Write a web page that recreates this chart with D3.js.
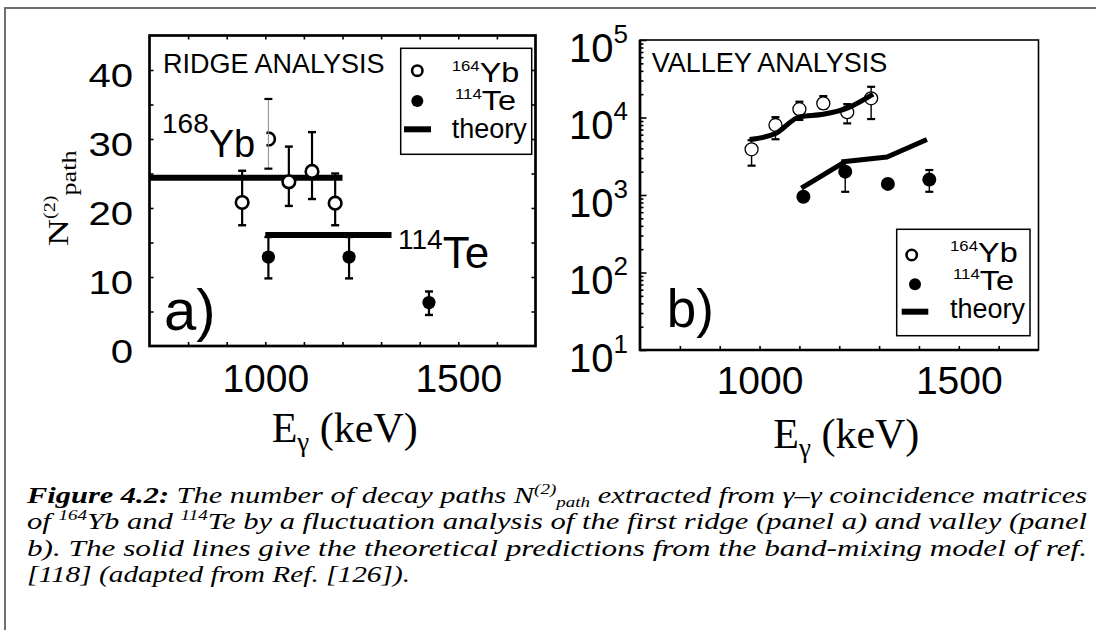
<!DOCTYPE html>
<html>
<head>
<meta charset="utf-8">
<script src="https://cdn.jsdelivr.net/npm/d3@7"></script>
<style>
  body { margin: 0; background: #fff; }
  svg { display: block; }
  text { white-space: pre; }
</style>
</head>
<body>
<svg id="fig" width="1096" height="630"></svg>
<script>
// ---------- data ----------
// Panel a: first-ridge fluctuation analysis, N(2)path vs E_gamma (keV)
const ridgeYbE  = [940, 1061, 1121, 1181];
const ridgeYbN  = [20.8, 23.8, 25.3, 20.7];
const ridgeYbLo = [17.5, 20.3, 21.3, 17.5];
const ridgeYbHi = [25.4, 28.9, 31.0, 25.0];

const ridgeTeE  = [1008, 1217, 1424];
const ridgeTeN  = [12.9, 12.9, 6.3];
const ridgeTeLo = [9.8, 9.8, 4.5];
const ridgeTeHi = [15.8, 15.8, 7.9];

const ridge168E  = [1008];
const ridge168N  = [30.0];
const ridge168Lo = [25.7];
const ridge168Hi = [35.8];

const ridgeTheoryYbE = [700, 1200];
const ridgeTheoryYbN = [24.4, 24.4];
const ridgeTheoryTeE = [1000, 1327];
const ridgeTheoryTeN = [16.1, 16.1];

// Panel b: valley analysis (log scale)
const valleyYbE  = [980, 1040, 1100, 1160, 1220, 1280];
const valleyYbN  = [3890, 8000, 12800, 15200, 11700, 17700];
const valleyYbLo = [2390, 5240, 9300, 13000, 8400, 9550];
const valleyYbHi = [5100, 10100, 16000, 18900, 14900, 24900];

const valleyTeE  = [1110, 1215, 1322, 1426];
const valleyTeN  = [950, 2000, 1390, 1580];
const valleyTeLo = [null, 1100, null, 1100];
const valleyTeHi = [null, 2800, null, 2100];

const valleyTheoryYbE = [975, 1040, 1100, 1160, 1220, 1285];
const valleyTheoryYbN = [5200, 6200, 10200, 11000, 13200, 20000];
const valleyTheoryTeE = [1105, 1215, 1320, 1420];
const valleyTheoryTeN = [1230, 2700, 3100, 5200];

// axes
const energyTicks  = [800, 900, 1000, 1100, 1200, 1300, 1400, 1500, 1600];
const energyLabels = [1000, 1500];
const ridgeTicks   = [5, 10, 15, 20, 25, 30, 35, 40];
const ridgeLabels  = [0, 10, 20, 30, 40];
const valleyMajor  = [10, 100, 1000, 10000, 100000];
const valleyMinor  = [20,30,40,50,60,70,80,90, 200,300,400,500,600,700,800,900,
                      2000,3000,4000,5000,6000,7000,8000,9000,
                      20000,30000,40000,50000,60000,70000,80000,90000];

const SANS  = "'Liberation Sans', Arial, Helvetica, sans-serif";
const SERIF = "'Liberation Serif', 'Times New Roman', Times, serif";

const zip = (e, n, lo, hi) => e.map((v, i) => ({ e: v, n: n[i], lo: lo ? lo[i] : null, hi: hi ? hi[i] : null }));

const svg = d3.select("#fig");

// outer figure frame
svg.append("rect")
  .attr("x", 5).attr("y", 8).attr("width", 1200).attr("height", 800)
  .attr("fill", "none").attr("stroke", "#707070").attr("stroke-width", 2);

// ---------- helpers ----------
function plainAxis(g) { g.select(".domain").remove(); g.selectAll("line").attr("stroke", "#000").attr("stroke-width", 1.6); }

// isotope label: raised mass number followed by the element symbol
function isotope(g, x, y, mass, sym, massSize, symSize, raise, sx) {
  const t = g.append("text").attr("transform", `translate(${x},${y}) scale(${sx || 1},1)`)
    .attr("font-family", SANS).attr("fill", "#000");
  t.append("tspan").attr("font-size", massSize).attr("dy", -raise).text(mass);
  t.append("tspan").attr("font-size", symSize).attr("dy", raise).text(sym);
  return t;
}

function errorBars(g, data, x, y, opt) {
  const bars = data.filter(d => d.lo != null && d.hi != null);
  g.selectAll(null).data(bars).join("line")
    .attr("x1", d => x(d.e)).attr("x2", d => x(d.e))
    .attr("y1", d => y(d.lo)).attr("y2", d => y(d.hi))
    .attr("stroke", opt.color || "#000").attr("stroke-width", opt.width);
  ["lo", "hi"].forEach(k => {
    g.selectAll(null).data(bars).join("line")
      .attr("x1", d => x(d.e) - opt.cap).attr("x2", d => x(d.e) + opt.cap)
      .attr("y1", d => y(d[k])).attr("y2", d => y(d[k]))
      .attr("stroke", "#000").attr("stroke-width", opt.capWidth);
  });
}

// =====================================================================
// Panel a) ridge analysis
// =====================================================================
const xA = d3.scaleLinear().domain([700, 1700]).range([149.5, 535.5]);
const yA = d3.scaleLinear().domain([0, 45]).range([346, 35.5]);
const gA = svg.append("g");

// tick marks on all four sides, pointing inward
gA.append("g").attr("transform", `translate(0,${yA(0)})`)
  .call(d3.axisBottom(xA).tickValues(energyTicks).tickSize(-4).tickFormat("")).call(plainAxis);
gA.append("g").attr("transform", `translate(0,${yA(45)})`)
  .call(d3.axisTop(xA).tickValues(energyTicks).tickSize(-4).tickFormat("")).call(plainAxis);
gA.append("g").attr("transform", `translate(${xA(700)},0)`)
  .call(d3.axisLeft(yA).tickValues(ridgeTicks).tickSize(-4).tickFormat("")).call(plainAxis);
gA.append("g").attr("transform", `translate(${xA(1700)},0)`)
  .call(d3.axisRight(yA).tickValues(ridgeTicks).tickSize(-4).tickFormat("")).call(plainAxis);

// tick labels
gA.append("g").attr("transform", `translate(0,${yA(0)})`)
  .call(d3.axisBottom(xA).tickValues(energyLabels).tickSize(0).tickFormat(d3.format("d")))
  .call(g => g.select(".domain").remove())
  .call(g => g.selectAll("text").attr("y", 46).attr("dy", null)
    .attr("font-family", SANS).attr("font-size", 39).attr("fill", "#000"));
gA.append("g").attr("transform", `translate(${xA(700)},0)`)
  .call(d3.axisLeft(yA).tickValues(ridgeLabels).tickSize(0).tickFormat(d3.format("d")))
  .call(g => g.select(".domain").remove())
  .call(g => g.selectAll("text").attr("x", null).attr("dy", null)
    .attr("transform", "translate(-16.5,16) scale(1.18,1)")
    .attr("font-family", SANS).attr("font-size", 34).attr("fill", "#000"));

// theory lines
const lineA = d3.line().x(d => xA(d.e)).y(d => yA(d.n));
[zip(ridgeTheoryYbE, ridgeTheoryYbN), zip(ridgeTheoryTeE, ridgeTheoryTeN)].forEach(data => {
  gA.append("path").datum(data).attr("d", lineA)
    .attr("fill", "none").attr("stroke", "#000").attr("stroke-width", 6);
});

// 168Yb reference point, partly hidden behind its label
const yb168 = zip(ridge168E, ridge168N, ridge168Lo, ridge168Hi);
gA.selectAll(null).data(yb168).join("circle")
  .attr("cx", d => xA(d.e)).attr("cy", d => yA(d.n)).attr("r", 6.5)
  .attr("fill", "#fff").attr("stroke", "#000").attr("stroke-width", 2.6);
gA.selectAll(null).data(yb168).join("rect")
  .attr("x", 205).attr("y", d => yA(d.n) - 10)
  .attr("width", d => xA(d.e) - 207).attr("height", 20).attr("fill", "#fff");
isotope(gA, 162, 157, "168", "Yb", 28, 38, 24);
errorBars(gA, yb168, xA, yA, { width: 1, color: "#8a8a8a", cap: 4, capWidth: 2.2 });

// 114Te annotation
isotope(gA, 398, 268, "114", "Te", 28, 44, 19);

// data: error bars then markers
const ybA = zip(ridgeYbE, ridgeYbN, ridgeYbLo, ridgeYbHi);
const teA = zip(ridgeTeE, ridgeTeN, ridgeTeLo, ridgeTeHi);
errorBars(gA, ybA, xA, yA, { width: 2.2, cap: 4, capWidth: 2.4 });
errorBars(gA, teA, xA, yA, { width: 2.2, cap: 4, capWidth: 2.4 });
gA.selectAll(null).data(ybA).join("circle")
  .attr("cx", d => xA(d.e)).attr("cy", d => yA(d.n)).attr("r", 6.3)
  .attr("fill", "#fff").attr("stroke", "#000").attr("stroke-width", 2.6);
gA.selectAll(null).data(teA).join("circle")
  .attr("cx", d => xA(d.e)).attr("cy", d => yA(d.n)).attr("r", 6.6).attr("fill", "#000");

// frame
gA.append("rect").attr("x", xA(700)).attr("y", yA(45))
  .attr("width", xA(1700) - xA(700)).attr("height", yA(0) - yA(45))
  .attr("fill", "none").attr("stroke", "#000").attr("stroke-width", 2.7);

gA.append("text").attr("x", 163).attr("y", 73).attr("font-family", SANS)
  .attr("font-size", 27).text("RIDGE ANALYSIS");
gA.append("text").attr("x", 164).attr("y", 330).attr("font-family", SANS)
  .attr("font-size", 58).text("a)");

// legend
const legA = gA.append("g");
legA.append("rect").attr("x", 400.7).attr("y", 48.3).attr("width", 131).attr("height", 106)
  .attr("fill", "#fff").attr("stroke", "#000").attr("stroke-width", 1.5);
legA.append("circle").attr("cx", 417.3).attr("cy", 70.7).attr("r", 5.2)
  .attr("fill", "#fff").attr("stroke", "#000").attr("stroke-width", 2.6);
legA.append("circle").attr("cx", 417.3).attr("cy", 101).attr("r", 6).attr("fill", "#000");
legA.append("line").attr("x1", 404).attr("x2", 431).attr("y1", 129.3).attr("y2", 129.3)
  .attr("stroke", "#000").attr("stroke-width", 6);
isotope(legA, 451.7, 81.7, "164", "Yb", 14, 27, 11, 1.2);
isotope(legA, 455, 110, "114", "Te", 14, 27, 11, 1.2);
legA.append("text").attr("x", 451.7).attr("y", 138.3).attr("font-family", SANS)
  .attr("font-size", 27).text("theory");

// axis titles
const ytA = gA.append("text").attr("transform", "translate(68,246) rotate(-90) scale(1.25,1)")
  .attr("font-family", SERIF).attr("font-size", 30);
ytA.append("tspan").text("N");
ytA.append("tspan").attr("font-size", 16).attr("dy", -13).text("(2)");
ytA.append("tspan").attr("font-size", 21).attr("dy", 21).text("path");

function energyTitle(g, x, y) {
  const t = g.append("text").attr("x", x).attr("y", y)
    .attr("font-family", SERIF).attr("font-size", 42);
  t.append("tspan").text("E");
  t.append("tspan").attr("font-size", 27).attr("dy", 9).text("γ");
  t.append("tspan").attr("dy", -9).text(" (keV)");
}
energyTitle(gA, 271.7, 442);

// =====================================================================
// Panel b) valley analysis
// =====================================================================
const xB = d3.scaleLinear().domain([700, 1700]).range([640, 1038.5]);
const yB = d3.scaleLog().domain([10, 1e5]).range([350, 40]);
const gB = svg.append("g");

gB.append("g").attr("transform", `translate(0,${yB(10)})`)
  .call(d3.axisBottom(xB).tickValues(energyTicks).tickSize(-4).tickFormat("")).call(plainAxis);
gB.append("g").attr("transform", `translate(${xB(700)},0)`)
  .call(d3.axisLeft(yB).tickValues(valleyMajor).tickSize(-6.5).tickFormat("")).call(plainAxis);
gB.append("g").attr("transform", `translate(${xB(700)},0)`)
  .call(d3.axisLeft(yB).tickValues(valleyMinor).tickSize(-3.5).tickFormat("")).call(plainAxis);

gB.append("g").attr("transform", `translate(0,${yB(10)})`)
  .call(d3.axisBottom(xB).tickValues(energyLabels).tickSize(0).tickFormat(d3.format("d")))
  .call(g => g.select(".domain").remove())
  .call(g => g.selectAll("text").attr("y", 44).attr("dy", null)
    .attr("font-family", SANS).attr("font-size", 39).attr("fill", "#000"));
gB.append("g").attr("transform", `translate(${xB(700)},0)`)
  .call(d3.axisLeft(yB).tickValues(valleyMajor).tickSize(0).tickFormat(""))
  .call(g => g.select(".domain").remove())
  .call(g => g.selectAll("text").each(function (d) {
    const t = d3.select(this).attr("x", -12).attr("y", 21).attr("dy", null)
      .attr("font-family", SANS).attr("font-size", 40).attr("fill", "#000").text("10");
    t.append("tspan").attr("font-size", 26).attr("dy", -19).text(String(Math.round(Math.log10(d))));
  }));

// data
const ybB = zip(valleyYbE, valleyYbN, valleyYbLo, valleyYbHi);
const teB = zip(valleyTeE, valleyTeN, valleyTeLo, valleyTeHi);
errorBars(gB, ybB, xB, yB, { width: 1.4, cap: 4, capWidth: 2.2 });
errorBars(gB, teB, xB, yB, { width: 1.4, cap: 4, capWidth: 2.2 });
gB.selectAll(null).data(ybB).join("circle")
  .attr("cx", d => xB(d.e)).attr("cy", d => yB(d.n)).attr("r", 6.5)
  .attr("fill", "#fff").attr("stroke", "#000").attr("stroke-width", 1.3);
gB.selectAll(null).data(teB).join("circle")
  .attr("cx", d => xB(d.e)).attr("cy", d => yB(d.n)).attr("r", 7).attr("fill", "#000");

gB.append("path").datum(zip(valleyTheoryYbE, valleyTheoryYbN))
  .attr("d", d3.line().x(d => xB(d.e)).y(d => yB(d.n)).curve(d3.curveMonotoneX))
  .attr("fill", "none").attr("stroke", "#000").attr("stroke-width", 5).attr("stroke-linejoin", "round");
gB.append("path").datum(zip(valleyTheoryTeE, valleyTheoryTeN))
  .attr("d", d3.line().x(d => xB(d.e)).y(d => yB(d.n)))
  .attr("fill", "none").attr("stroke", "#000").attr("stroke-width", 5).attr("stroke-linejoin", "round");

// frame: heavy left/bottom axes, light top/right
gB.append("rect").attr("x", xB(700)).attr("y", yB(1e5))
  .attr("width", xB(1700) - xB(700)).attr("height", yB(10) - yB(1e5))
  .attr("fill", "none").attr("stroke", "#000").attr("stroke-width", 1.6);
gB.append("path")
  .attr("d", `M${xB(700)},${yB(1e5)}V${yB(10)}H${xB(1700)}`)
  .attr("fill", "none").attr("stroke", "#000").attr("stroke-width", 2.7);

gB.append("text").attr("x", 651.7).attr("y", 71.7).attr("font-family", SANS)
  .attr("font-size", 27).text("VALLEY ANALYSIS");
gB.append("text").attr("x", 666.7).attr("y", 327).attr("font-family", SANS)
  .attr("font-size", 53).text("b)");

const legB = gB.append("g");
legB.append("rect").attr("x", 896.7).attr("y", 229.3).attr("width", 133.3).attr("height", 106.4)
  .attr("fill", "#fff").attr("stroke", "#000").attr("stroke-width", 1.5);
legB.append("circle").attr("cx", 911.7).attr("cy", 255).attr("r", 5.2)
  .attr("fill", "#fff").attr("stroke", "#000").attr("stroke-width", 2.6);
legB.append("circle").attr("cx", 915).attr("cy", 284.3).attr("r", 6).attr("fill", "#000");
legB.append("line").attr("x1", 901.7).attr("x2", 928.3).attr("y1", 311.7).attr("y2", 311.7)
  .attr("stroke", "#000").attr("stroke-width", 6);
isotope(legB, 950, 261.7, "164", "Yb", 14, 27, 11, 1.2);
isotope(legB, 953, 290, "114", "Te", 14, 27, 11, 1.2);
legB.append("text").attr("x", 950).attr("y", 318.3).attr("font-family", SANS)
  .attr("font-size", 27).text("theory");

energyTitle(gB, 773.3, 448);

// =====================================================================
// caption
// =====================================================================
const cap = svg.append("g").attr("font-family", SERIF).attr("font-style", "italic")
  .attr("font-size", 24).attr("fill", "#000");

function capLine(y, len, parts) {
  const t = cap.append("text").attr("x", 27).attr("y", y);
  if (len) t.attr("textLength", len).attr("lengthAdjust", "spacingAndGlyphs");
  parts.forEach(p => {
    const s = t.append("tspan").text(p.t);
    if (p.b) s.attr("font-weight", "bold");
    if (p.s) s.attr("font-size", p.s);
    if (p.dy) s.attr("dy", p.dy);
  });
}
capLine(503, 1060, [
  { t: "Figure 4.2:", b: true },
  { t: " The number of decay paths N" },
  { t: "(2)", s: 15, dy: -9 },
  { t: "path", s: 15, dy: 13 },
  { t: " extracted from γ–γ coincidence matrices", dy: -4 }
]);
capLine(529, 1060, [
  { t: "of " },
  { t: "164", s: 15, dy: -9 },
  { t: "Yb and ", dy: 9 },
  { t: "114", s: 15, dy: -9 },
  { t: "Te by a fluctuation analysis of the first ridge (panel a) and valley (panel", dy: 9 }
]);
capLine(556, 1060, [
  { t: "b). The solid lines give the theoretical predictions from the band-mixing model of ref." }
]);
capLine(582, 383, [
  { t: "[118] (adapted from Ref. [126])." }
]);
</script>
</body>
</html>
